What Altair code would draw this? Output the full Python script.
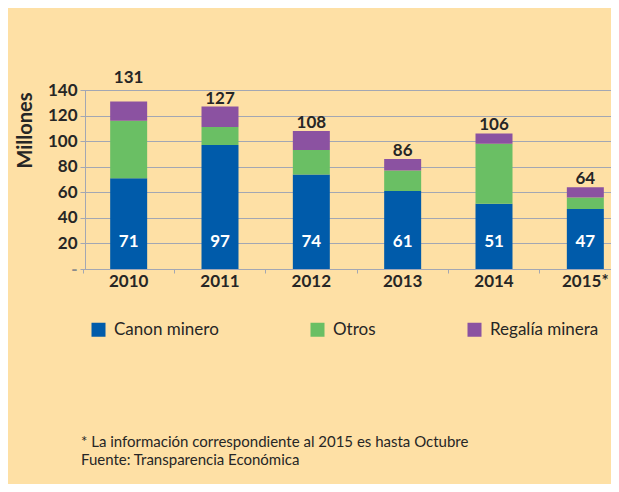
import altair as alt
import pandas as pd

years = ["2010", "2011", "2012", "2013", "2014", "2015*"]
canon = [71, 97, 74, 61, 51, 47]
otros = [45, 14, 19, 16, 47, 9]
regalia = [15, 16, 15, 9, 8, 8]
totals = [131, 127, 108, 86, 106, 64]
series = ["Canon minero", "Otros", "Regalía minera"]
colors = ["#005BAA", "#6ABF64", "#8B52A1"]
y_ticks = [0, 20, 40, 60, 80, 100, 120, 140]
footnotes = ["* La información correspondiente al 2015 es hasta Octubre",
             "Fuente: Transparencia Económica"]

rows = []
for i, yr in enumerate(years):
    for k, (s, vals) in enumerate(zip(series, [canon, otros, regalia])):
        rows.append({"year": yr, "serie": s, "value": vals[i], "order": k})
long_df = pd.DataFrame(rows)
wide_df = pd.DataFrame({"year": years, "canon": canon, "total": totals})

FONT = "Lato"
INK = "#262626"
GRID = "#A3A7B3"
BG = "#FEE0A5"

xscale = alt.Scale(domain=years, range=[-2, 546], paddingInner=0, paddingOuter=0)
yscale = alt.Scale(domain=[0, 140], nice=False)

x_axis = alt.Axis(title=None, labelAngle=0, labelFont=FONT, labelFontSize=17,
                  labelFontWeight="bold", labelColor=INK, domainColor=GRID,
                  tickColor=GRID, tickSize=4, bandPosition=0, labelPadding=0,
                  grid=False)

y_axis = alt.Axis(values=y_ticks, tickCount=8,
                  labelExpr="datum.value == 0 ? '-' : datum.label",
                  labelOverlap=False,
                  grid=True, gridColor=GRID, domainColor=GRID, tickColor=GRID,
                  tickSize=5, labelPadding=3, labelFont=FONT, labelFontSize=17,
                  labelFontWeight="bold",
                  labelColor=alt.condition("datum.value == 0", alt.value("#8C8C8C"), alt.value(INK)),
                  title="Millones", titleFont=FONT, titleFontSize=20,
                  titleFontWeight="bold", titleColor=INK, titleX=-59.5, titleY=40,
                  titleBaseline="middle", titleAngle=-90)

x_enc = alt.X("year:N", sort=years, scale=xscale, axis=x_axis)

bars = alt.Chart(long_df).mark_bar(width=alt.RelativeBandSize(0.405)).encode(
    x=x_enc,
    y=alt.Y("value:Q", stack="zero", scale=yscale, axis=y_axis, title="Millones"),
    color=alt.Color("serie:N", scale=alt.Scale(domain=series, range=colors),
                    legend=alt.Legend(title=None, orient="none", legendX=5, legendY=231,
                                      direction="horizontal", symbolType="square",
                                      symbolSize=196, symbolStrokeWidth=0, symbolOpacity=1,
                                      labelFont=FONT, labelFontSize=17, labelColor=INK,
                                      labelOffset=7, columnPadding=90)),
    order=alt.Order("order:Q"),
)

totals_txt = alt.Chart(wide_df).transform_filter("datum.year != '2010'").mark_text(
    dy=-3, baseline="alphabetic", font=FONT, fontSize=17, fontWeight="bold", color=INK
).encode(x=x_enc, y=alt.Y("total:Q", scale=yscale, axis=y_axis, title="Millones"),
         text="total:Q")

totals_first = alt.Chart(wide_df).transform_filter("datum.year == '2010'").mark_text(
    dy=-19, baseline="alphabetic", font=FONT, fontSize=17, fontWeight="bold", color=INK
).encode(x=x_enc, y=alt.Y("total:Q", scale=yscale, axis=y_axis, title="Millones"),
         text="total:Q")

inside_txt = alt.Chart(wide_df).transform_calculate(base="0").mark_text(
    dy=-27, baseline="middle", font=FONT, fontSize=17, fontWeight="bold", color="white"
).encode(x=x_enc, y=alt.Y("base:Q", scale=yscale, axis=y_axis, title="Millones"),
         text="canon:Q")

foot = alt.Chart(pd.DataFrame({"k": [0]})).mark_text(
    text=footnotes, align="left", baseline="alphabetic", font=FONT, fontSize=15,
    lineHeight=18.3, color=INK
).encode(x=alt.value(-4), y=alt.value(356.5))

chart = alt.layer(bars, totals_txt, totals_first, inside_txt, foot).properties(
    width=526, height=179,
    autosize=alt.AutoSizeParams(type="none"),
    padding={"left": 77, "top": 82, "right": 0, "bottom": 215},
    background=BG,
).configure_view(stroke=None)

chart.save("out.html", embed_options={"renderer": "svg", "actions": False})
